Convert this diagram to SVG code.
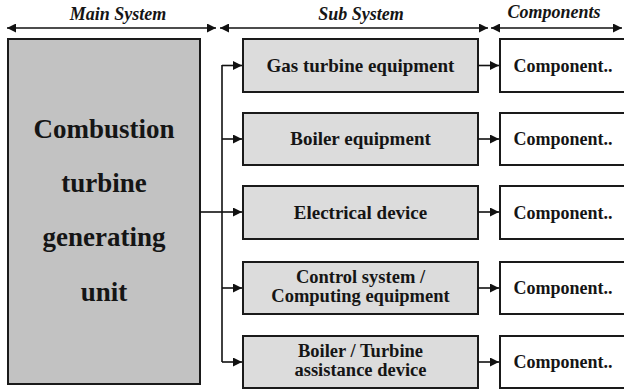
<svg xmlns="http://www.w3.org/2000/svg" width="624" height="390" viewBox="0 0 624 390">
<defs>
<marker id="ah" viewBox="0 0 10 10" refX="10" refY="5" markerWidth="10" markerHeight="9" markerUnits="userSpaceOnUse" orient="auto-start-reverse">
<path d="M0,0 L10,5 L0,10 z" fill="#111"/>
</marker>
<style>
text{font-family:'Liberation Serif','DejaVu Serif',serif;font-weight:bold;fill:#151515;text-anchor:middle}
.h{font-size:18px;font-style:italic}
.m{font-size:27px}
.s{font-size:19px}
.s2{font-size:18.5px}
.c{font-size:18px}
.main{fill:#c2c2c2;stroke:#1a1a1a;stroke-width:2}
.sub{fill:#dcdcdc;stroke:#1a1a1a;stroke-width:2}
.comp{fill:#ffffff;stroke:#1a1a1a;stroke-width:2}
.ln{fill:none;stroke:#111;stroke-width:1.6}
</style>
</defs>
<rect width="624" height="390" fill="#ffffff"/>
<g id="headers">
<text class="h" x="118" y="20">Main System</text>
<text class="h" x="361" y="20">Sub System</text>
<text class="h" x="554" y="18">Components</text>
<line class="ln" x1="7" y1="28" x2="216" y2="28" marker-start="url(#ah)" marker-end="url(#ah)"/>
<line class="ln" x1="220" y1="28" x2="488" y2="28" marker-start="url(#ah)" marker-end="url(#ah)"/>
<line class="ln" x1="491" y1="28" x2="622" y2="28" marker-start="url(#ah)" marker-end="url(#ah)"/>
</g>
<g id="main">
<rect class="main" x="8" y="39" width="192" height="345"/>
<text class="m" x="104" y="138">Combustion</text>
<text class="m" x="104" y="192">turbine</text>
<text class="m" x="104" y="246">generating</text>
<text class="m" x="104" y="301">unit</text>
</g>
<g id="sub1">
<rect class="sub" x="243" y="39" width="235" height="53"/>
<text class="s" x="360.5" y="72">Gas turbine equipment</text>
</g>
<g id="sub2">
<rect class="sub" x="243" y="113" width="235" height="52"/>
<text class="s" x="360.5" y="145">Boiler equipment</text>
</g>
<g id="sub3">
<rect class="sub" x="243" y="186" width="235" height="53"/>
<text class="s" x="360.5" y="219">Electrical device</text>
</g>
<g id="sub4">
<rect class="sub" x="243" y="262" width="235" height="52"/>
<text class="s2" x="360.5" y="282.5">Control system /</text>
<text class="s2" x="360.5" y="301.5">Computing equipment</text>
</g>
<g id="sub5">
<rect class="sub" x="243" y="336" width="235" height="52"/>
<text class="s2" x="360.5" y="356.5">Boiler / Turbine</text>
<text class="s2" x="360.5" y="375.5">assistance device</text>
</g>
<g id="comp1">
<rect class="comp" x="500" y="39" width="130" height="53"/>
<text class="c" x="563" y="72">Component..</text>
</g>
<g id="comp2">
<rect class="comp" x="500" y="113" width="130" height="52"/>
<text class="c" x="563" y="145">Component..</text>
</g>
<g id="comp3">
<rect class="comp" x="500" y="186" width="130" height="53"/>
<text class="c" x="563" y="219">Component..</text>
</g>
<g id="comp4">
<rect class="comp" x="500" y="262" width="130" height="52"/>
<text class="c" x="563" y="294">Component..</text>
</g>
<g id="comp5">
<rect class="comp" x="500" y="336" width="130" height="52"/>
<text class="c" x="563" y="368">Component..</text>
</g>
<g id="connectors">
<line class="ln" x1="200" y1="212" x2="222" y2="212"/>
<line class="ln" x1="222" y1="65" x2="222" y2="362"/>
<line class="ln" x1="222" y1="65.5" x2="242" y2="65.5" marker-end="url(#ah)"/>
<line class="ln" x1="222" y1="139" x2="242" y2="139" marker-end="url(#ah)"/>
<line class="ln" x1="222" y1="212" x2="242" y2="212" marker-end="url(#ah)"/>
<line class="ln" x1="222" y1="288" x2="242" y2="288" marker-end="url(#ah)"/>
<line class="ln" x1="222" y1="362" x2="242" y2="362" marker-end="url(#ah)"/>
<line class="ln" x1="478" y1="65.5" x2="499" y2="65.5" marker-end="url(#ah)"/>
<line class="ln" x1="478" y1="139" x2="499" y2="139" marker-end="url(#ah)"/>
<line class="ln" x1="478" y1="212" x2="499" y2="212" marker-end="url(#ah)"/>
<line class="ln" x1="478" y1="288" x2="499" y2="288" marker-end="url(#ah)"/>
<line class="ln" x1="478" y1="362" x2="499" y2="362" marker-end="url(#ah)"/>
</g>
</svg>
